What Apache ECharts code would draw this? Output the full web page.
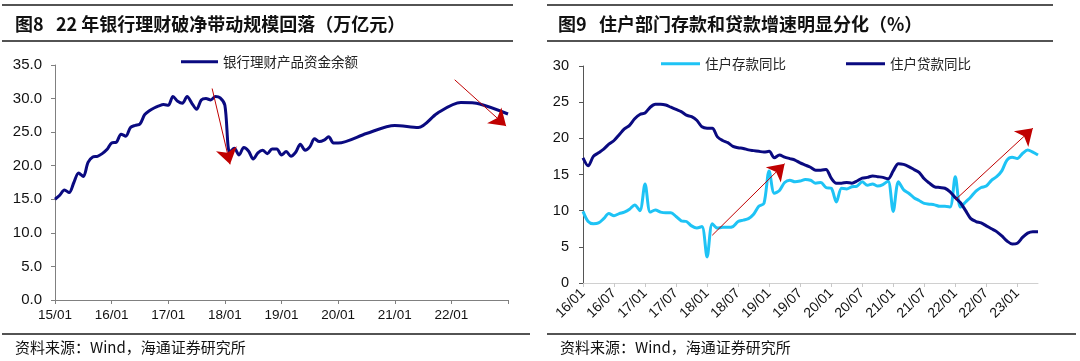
<!DOCTYPE html>
<html><head><meta charset="utf-8">
<script src="https://cdn.jsdelivr.net/npm/echarts@6/dist/echarts.min.js"></script>
<style>html,body{margin:0;padding:0;background:#fff}#c{width:1080px;height:361px}</style>
</head><body><div id="c"></div>
<script>
// ---- Figure 8: bank wealth-management balance (trillion yuan), x = months since 2015/01
const wmMonth = [0,1,2,3,4,5,6,7,8,9,10,11,12,13,14,15,16,17,18,19,20,21,22,23,24,25,26,27,28,29,30,31,32,33,34,35,36,37,38,39,40,41,42,43,44,45,46,47,48,49,50,51,52,53,54,55,56,57,58,59,60,66,72,77,81,86,90,96];
const wmBalance = [15.0,15.6,16.4,16.0,17.5,18.9,18.4,20.5,21.3,21.4,21.8,22.4,23.4,23.5,24.7,24.4,25.7,26.0,26.2,27.6,28.2,28.6,28.9,29.1,29.0,30.3,29.6,29.3,30.3,29.3,28.4,29.8,30.0,29.8,30.3,30.1,29.0,22.0,22.6,21.6,22.7,22.2,21.0,21.9,22.3,21.8,22.5,22.5,21.6,22.1,21.4,22.0,23.2,22.3,22.8,24.0,23.6,23.8,24.3,23.4,23.4,24.8,26.0,25.7,27.8,29.4,29.2,27.7];
const wmTickYears = ['15','16','17','18','19','20','21','22'];
const wmName = '银行理财产品资金余额';

// ---- Figure 9: household deposit / loan growth (%), monthly 16/01 .. 23/05
const hhMonths = [];
for (let y = 16; y <= 23; y++) for (let m = 1; m <= 12; m++) { if (y === 23 && m > 5) break; hhMonths.push(y + '/' + (m < 10 ? '0' + m : m)); }
const depositYoY = [9.9,8.5,8.2,8.3,8.9,9.6,9.3,9.6,9.8,10.2,10.8,10.0,13.7,9.8,10.1,9.8,9.7,9.7,9.2,8.6,8.5,7.9,7.6,7.8,3.6,8.2,7.6,7.7,7.7,7.8,8.5,8.7,8.9,9.5,10.6,11.0,15.5,12.4,12.8,13.9,14.2,14.0,14.1,14.3,14.2,13.8,13.9,13.2,13.1,11.2,13.1,13.0,13.3,13.4,14.0,13.5,13.7,13.4,13.6,14.1,9.9,14.0,12.9,12.4,11.8,11.4,11.0,10.9,10.8,10.6,10.6,10.5,14.7,10.5,11.2,11.9,12.7,13.2,13.4,14.2,14.7,15.5,17.0,17.4,17.2,17.9,18.4,18.1,17.7];
const loanYoY = [17.3,16.2,17.5,18.0,18.5,19.2,19.7,20.5,21.3,21.8,22.7,23.3,23.5,24.3,24.7,24.7,24.6,24.3,24.0,23.7,23.2,23.0,22.5,21.6,21.4,21.4,20.2,19.7,19.4,18.9,18.7,18.6,18.4,18.3,18.2,18.1,18.2,17.3,17.7,17.4,17.2,17.0,16.6,16.3,16.0,15.6,15.6,15.7,14.5,13.8,13.8,13.9,13.8,14.1,14.5,14.6,14.8,14.7,14.6,14.4,15.5,16.5,16.4,16.1,15.7,15.3,14.4,13.8,13.3,13.2,13.1,12.6,11.8,11.1,10.0,8.9,8.5,8.3,7.9,7.5,7.1,6.5,5.8,5.4,5.5,6.3,6.9,7.1,7.1];
const depName = '住户存款同比', loanName = '住户贷款同比';

const titleL = '图8   22 年银行理财破净带动规模回落（万亿元）';
const titleR = '图9   住户部门存款和贷款增速明显分化（%）';
const sourceText = '资料来源：Wind，海通证券研究所';

const chart = echarts.init(document.getElementById('c'));
const NUM = 'Liberation Sans, Arial, sans-serif';
const CJK = '"Noto Sans CJK SC", sans-serif';
const red = '#C00000';
const arrowLine = (pairs) => ({
  silent: true, symbol: ['none', 'arrow'], symbolSize: 16, animation: false,
  label: { show: false }, emphasis: { disabled: true },
  lineStyle: { color: red, width: 1, type: 'solid' },
  itemStyle: { color: red },
  data: pairs.map(p => [{ coord: p[0] }, { coord: p[1] }])
});
const hline = (x1, x2, y, w) => ({ type: 'line', shape: { x1, y1: y, x2, y2: y }, style: { stroke: '#1a1a1a', lineWidth: w } });
const txt = (x, y, t, size, weight) => ({ type: 'text', left: x, top: y, style: { text: t, font: (weight || 'normal') + ' ' + size + 'px ' + CJK, fill: '#111' } });

chart.setOption({
  animation: false,
  grid: [
    { left: 55, top: 65, width: 453, height: 235 },
    { left: 583, top: 66, width: 455, height: 217 }
  ],
  legend: [
    { data: [wmName], left: 176, top: 50, icon: 'rect', itemWidth: 37, itemHeight: 3, itemGap: 10,
      textStyle: { fontFamily: CJK, fontSize: 13.5, color: '#222' } },
    { data: [depName, loanName], left: 656, top: 52, icon: 'rect', itemWidth: 39, itemHeight: 3, itemGap: 60,
      textStyle: { fontFamily: CJK, fontSize: 13.5, color: '#222' } }
  ],
  xAxis: [
    { type: 'value', gridIndex: 0, min: 0, max: 96, interval: 12,
      axisLine: { lineStyle: { color: '#808080' } }, axisTick: { length: 4, lineStyle: { color: '#808080' } },
      splitLine: { show: false },
      axisLabel: { fontFamily: NUM, fontSize: 13.5, color: '#111', margin: 8,
        formatter: v => v < 96 ? wmTickYears[v / 12] + '/01' : '' } },
    { type: 'category', gridIndex: 1, data: hhMonths, boundaryGap: false,
      axisLine: { lineStyle: { color: '#D0D0D0' } },
      axisTick: { interval: 5, length: 4, lineStyle: { color: '#C8C8C8' } },
      axisLabel: { interval: 5, rotate: 45, fontFamily: NUM, fontSize: 14, color: '#111', margin: 8 } }
  ],
  yAxis: [
    { type: 'value', gridIndex: 0, min: 0, max: 35, interval: 5,
      axisLine: { show: true, lineStyle: { color: '#808080' } }, axisTick: { show: true, length: 4, lineStyle: { color: '#808080' } },
      splitLine: { show: false },
      axisLabel: { fontFamily: NUM, fontSize: 15, color: '#111', margin: 13, formatter: v => v.toFixed(1) } },
    { type: 'value', gridIndex: 1, min: 0, max: 30, interval: 5,
      axisLine: { show: true, lineStyle: { color: '#555' } }, axisTick: { show: true, length: 4, lineStyle: { color: '#555' } },
      splitLine: { show: false },
      axisLabel: { fontFamily: NUM, fontSize: 14.5, color: '#111', margin: 14 } }
  ],
  series: [
    { name: wmName, type: 'line', xAxisIndex: 0, yAxisIndex: 0, showSymbol: false, symbol: 'none', smooth: 0.3,
      lineStyle: { color: '#0A0A80', width: 3 }, itemStyle: { color: '#0A0A80' },
      data: wmMonth.map((m, i) => [m, wmBalance[i]]),
      markLine: arrowLine([[[33.3, 31.5], [37.1, 20.2]], [[84.7, 32.8], [95.6, 25.9]]]) },
    { name: depName, type: 'line', xAxisIndex: 1, yAxisIndex: 1, showSymbol: false, symbol: 'none', smooth: 0.3,
      lineStyle: { color: '#1EC3F5', width: 3 }, itemStyle: { color: '#1EC3F5' },
      data: depositYoY },
    { name: loanName, type: 'line', xAxisIndex: 1, yAxisIndex: 1, showSymbol: false, symbol: 'none', smooth: 0.3,
      lineStyle: { color: '#0A0A80', width: 3 }, itemStyle: { color: '#0A0A80' },
      data: loanYoY,
      markLine: arrowLine([[[hhMonths[25], 6.6], [hhMonths[39], 16.5]], [[hhMonths[72], 11.5], [hhMonths[87], 21.4]]]) }
  ],
  graphic: [
    hline(2, 513, 5, 1.5), hline(2, 513, 41, 1.5),
    hline(547, 1053, 5, 1.5), hline(547, 1053, 41, 1.5),
    hline(2, 530, 334, 1.5), hline(547, 1076, 334, 1.5),
    txt(15, 15, titleL, 18, 'bold'), txt(558, 15, titleR, 18, 'bold'),
    txt(15, 340, sourceText, 15), txt(560, 340, sourceText, 15)
  ]
});
</script></body></html>
